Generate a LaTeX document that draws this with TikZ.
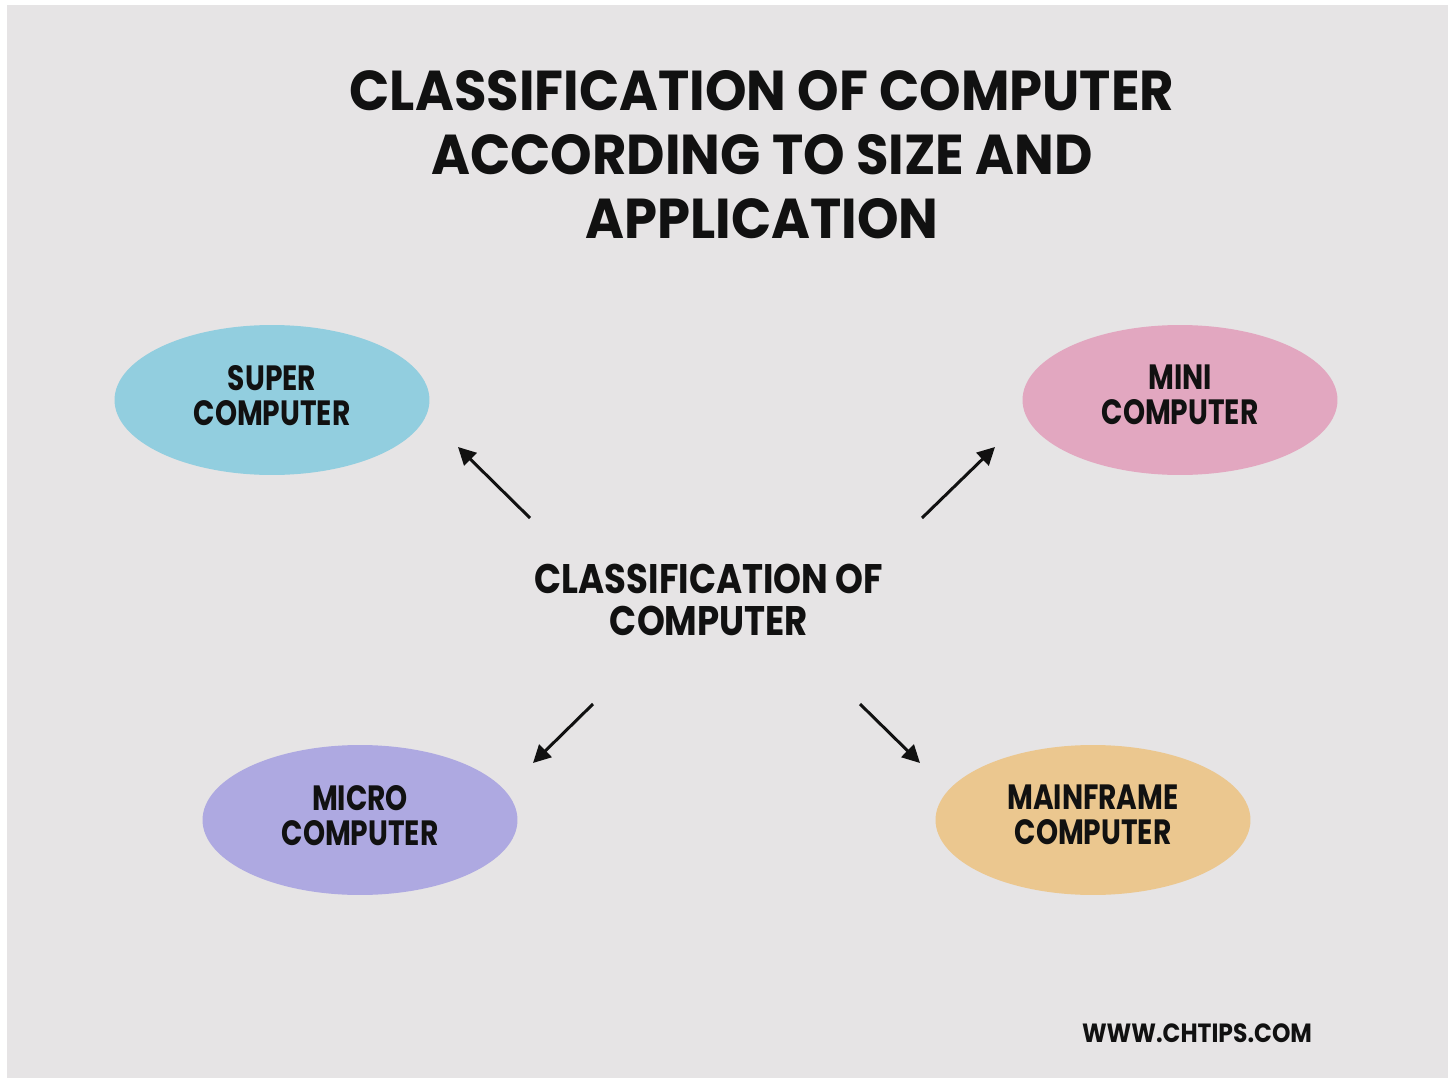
\documentclass[tikz,border=0pt]{standalone}
\usepackage{fontspec}
\setmainfont{Poppins}
\usetikzlibrary{shapes.geometric,arrows.meta}
\definecolor{bgc}{HTML}{E6E4E5}
\definecolor{cblue}{HTML}{92CEDF}
\definecolor{cpink}{HTML}{E2A7C0}
\definecolor{cpurple}{HTML}{AEA9E1}
\definecolor{ctan}{HTML}{EBC78F}
\definecolor{ink}{HTML}{111111}
\newcommand{\hwtext}[2]{\scalebox{#1}[1]{\begin{tabular}{@{}c@{}}#2\end{tabular}}}
\tikzset{
  oval/.style={ellipse, minimum width=6.3cm, minimum height=3cm, inner sep=0pt, text=ink},
  ovaltext/.style={font=\bfseries\fontsize{20}{18.7}\selectfont},
  titletext/.style={font=\bfseries\fontsize{32}{36.3}\selectfont, text=ink, inner sep=0pt},
  centertext/.style={font=\bfseries\fontsize{23.5}{23.8}\selectfont, text=ink, inner sep=0pt},
  foottext/.style={font=\bfseries\fontsize{15}{18}\selectfont, text=ink, inner sep=0pt},
  conn/.style={draw=ink, line width=1.7pt, -{Triangle[length=10pt,width=10pt]}}
}
\begin{document}
\begin{tikzpicture}[x=0.02cm, y=-0.02cm]
\useasboundingbox (0,0) rectangle (1448,1078);
\fill[white] (0,0) rectangle (1448,1078);
\fill[bgc] (7,5) rectangle (1448,1078);

\node[titletext] (title) at (762,162) {\hwtext{0.94}{CLASSIFICATION OF COMPUTER\\ACCORDING TO SIZE AND\\APPLICATION}};

\node[centertext] (center) at (709,606) {\hwtext{0.86}{CLASSIFICATION OF\\COMPUTER}};

\node[oval, fill=cblue, ovaltext] (super) at (272,400) {\hwtext{0.8}{SUPER\\COMPUTER}};
\node[oval, fill=cpink, ovaltext] (mini) at (1180,400) {\hwtext{0.8}{MINI\\COMPUTER}};
\node[oval, fill=cpurple, ovaltext] (micro) at (360,820) {\hwtext{0.8}{MICRO\\COMPUTER}};
\node[oval, fill=ctan, ovaltext] (mainframe) at (1093,820) {\hwtext{0.8}{MAINFRAME\\COMPUTER}};

\node[foottext] (footer) at (1197,1033) {\scalebox{0.89}[1]{WWW.CHTIPS.COM}};

\coordinate (s1) at (530,518); \coordinate (e1) at (458,447);
\coordinate (s2) at (922,518); \coordinate (e2) at (995,447);
\coordinate (s3) at (593,704); \coordinate (e3) at (533,763);
\coordinate (s4) at (860,704); \coordinate (e4) at (920,763);
\draw[conn] (s1) -- (e1);
\draw[conn] (s2) -- (e2);
\draw[conn] (s3) -- (e3);
\draw[conn] (s4) -- (e4);
\end{tikzpicture}
\end{document}
